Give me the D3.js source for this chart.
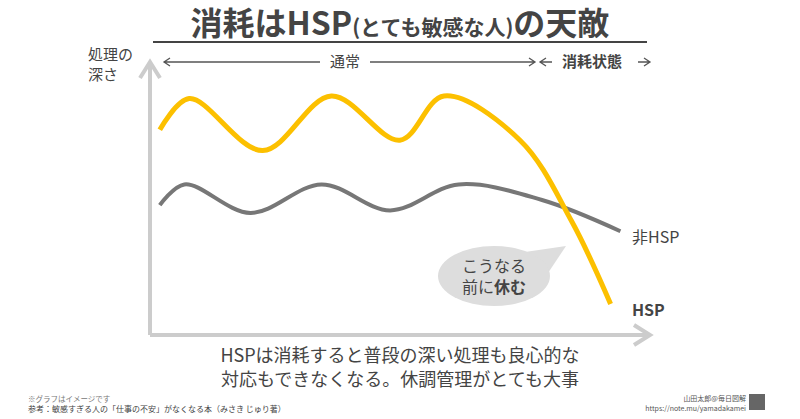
<!DOCTYPE html><html><head><meta charset="utf-8"><script src="https://cdn.jsdelivr.net/npm/d3@7"></script>
<style>body{margin:0;background:#fff}text{font-family:"Noto Sans CJK JP","Noto Sans",sans-serif}</style></head><body>
<svg id="c" width="800" height="419"></svg>
<script>
const hspX=[2,8,23,37,51,60,75.5,86,94];
const hspY=[77,89,69,90,73,90,73,42,10];
const nonX=[2,7,20.5,35,49,63,80,96];
const nonY=[48,56,45,56,46,56,50,38];
const svg=d3.select("#c");
const x=d3.scaleLinear().domain([0,100]).range([150,640]);
const y=d3.scaleLinear().domain([0,100]).range([330,70]);
const g="#555";
const t=svg.append("text").attr("x",400).attr("y",35).attr("text-anchor","middle").attr("font-weight","bold").attr("fill","#444").attr("font-size",32);
t.append("tspan").text("消耗はHSP");
t.append("tspan").attr("font-size",21).text("(とても敏感な人)");
t.append("tspan").text("の天敵");
svg.append("line").attr("x1",153).attr("x2",647).attr("y1",42).attr("y2",42).attr("stroke","#444").attr("stroke-width",2);
svg.append("path").attr("d","M150,335V64M140,78L150,62L160,78").attr("fill","none").attr("stroke","#ccc").attr("stroke-width",4);
svg.append("path").attr("d","M150,335H650M634,325L650,335L634,345").attr("fill","none").attr("stroke","#ccc").attr("stroke-width",4);
svg.append("text").attr("x",88).attr("y",60).attr("font-size",15).attr("fill","#444").text("処理の");
svg.append("text").attr("x",88).attr("y",80).attr("font-size",15).attr("fill","#444").text("深さ");
svg.append("path").attr("d","M165,62H535M170,58L164,62L170,66M529,58L535,62L529,66").attr("fill","none").attr("stroke",g).attr("stroke-width",1.3);
svg.append("rect").attr("x",320).attr("y",50).attr("width",50).attr("height",22).attr("fill","#fff");
svg.append("text").attr("x",345).attr("y",67).attr("text-anchor","middle").attr("font-size",15).attr("fill","#444").text("通常");
svg.append("path").attr("d","M540,62H552M546,58L540,62L546,66M638,62H650M644,58L650,62L644,66").attr("fill","none").attr("stroke",g).attr("stroke-width",1.3);
svg.append("text").attr("x",592).attr("y",67).attr("text-anchor","middle").attr("font-size",15).attr("font-weight","bold").attr("fill","#444").text("消耗状態");
const line=d3.line().x(d=>x(d[0])).y(d=>y(d[1])).curve(d3.curveCatmullRom);
svg.append("path").attr("d",line(nonX.map((v,i)=>[v,nonY[i]]))).attr("fill","none").attr("stroke","#777").attr("stroke-width",4);
svg.append("path").attr("d",line(hspX.map((v,i)=>[v,hspY[i]]))).attr("fill","none").attr("stroke","#fcc000").attr("stroke-width",5);
svg.append("text").attr("x",632).attr("y",243).attr("font-size",16).attr("fill","#444").text("非HSP");
svg.append("text").attr("x",632).attr("y",316).attr("font-size",16).attr("font-weight","bold").attr("fill","#444").text("HSP");
svg.append("path").attr("d","M525,252L566,246L540,285Z").attr("fill","#ddd");
svg.append("ellipse").attr("cx",494).attr("cy",276).attr("rx",56).attr("ry",30).attr("fill","#ddd");
svg.append("text").attr("x",494).attr("y",272).attr("text-anchor","middle").attr("font-size",16).attr("fill","#444").text("こうなる");
const b=svg.append("text").attr("x",494).attr("y",293).attr("text-anchor","middle").attr("font-size",16).attr("fill","#444");
b.append("tspan").text("前に");b.append("tspan").attr("font-weight","bold").text("休む");
svg.append("text").attr("x",400).attr("y",362).attr("text-anchor","middle").attr("font-size",18).attr("fill","#444").text("HSPは消耗すると普段の深い処理も良心的な");
svg.append("text").attr("x",400).attr("y",386).attr("text-anchor","middle").attr("font-size",18).attr("fill","#444").text("対応もできなくなる。休調管理がとても大事");
svg.append("text").attr("x",28).attr("y",402).attr("font-size",7.5).attr("fill","#777").text("※グラフはイメージです");
svg.append("text").attr("x",28).attr("y",412).attr("font-size",8).attr("fill","#444").text("参考：敏感すぎる人の「仕事の不安」がなくなる本（みさき じゅり著）");
svg.append("text").attr("x",746).attr("y",401).attr("text-anchor","end").attr("font-size",7).attr("fill","#555").text("山田太郎@毎日図解");
svg.append("text").attr("x",746).attr("y",411).attr("text-anchor","end").attr("font-size",7).attr("fill","#555").text("https://note.mu/yamadakamei");
svg.append("rect").attr("x",749).attr("y",394).attr("width",16).attr("height",16).attr("fill","#666");
</script></body></html>
